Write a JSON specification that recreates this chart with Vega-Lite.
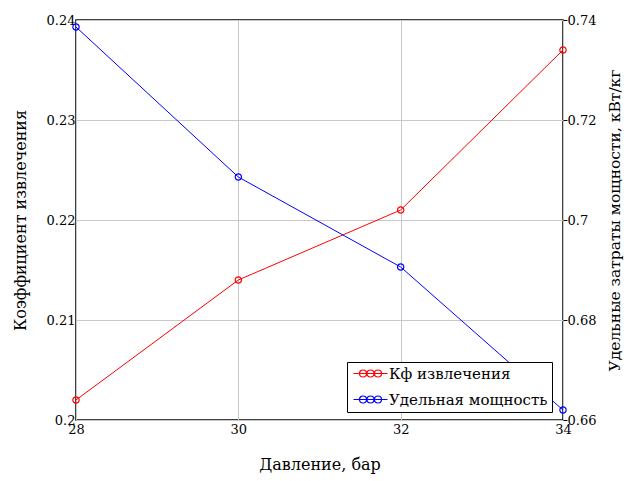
{
  "$schema": "https://vega.github.io/schema/vega-lite/v6.json",
  "width": 487,
  "height": 400,
  "autosize": {"type": "none"},
  "padding": {"left": 76, "top": 20, "right": 70, "bottom": 61},
  "background": "white",
  "config": {
    "font": "DejaVu Serif",
    "view": {"stroke": "black", "strokeWidth": 1.5},
    "axis": {"labelFont": "DejaVu Serif", "titleFont": "DejaVu Serif", "labelFontSize": 13, "titleFontSize": 16, "titleFontWeight": "normal", "labelColor": "black", "titleColor": "black", "gridColor": "#c8c8c8", "gridWidth": 1, "domainColor": "black", "tickColor": "black", "labelFlush": false},
    "legend": {"labelFont": "DejaVu Serif"}
  },
  "data": {
    "values": [
      {"p": 28, "series": "Кф извлечения", "v": 0.202},
      {"p": 30, "series": "Кф извлечения", "v": 0.214},
      {"p": 32, "series": "Кф извлечения", "v": 0.221},
      {"p": 34, "series": "Кф извлечения", "v": 0.237},
      {"p": 28, "series": "Удельная мощность", "v": 0.7386},
      {"p": 30, "series": "Удельная мощность", "v": 0.7086},
      {"p": 32, "series": "Удельная мощность", "v": 0.6906},
      {"p": 34, "series": "Удельная мощность", "v": 0.662}
    ]
  },
  "encoding": {
    "x": {"field": "p", "type": "quantitative", "title": "Давление, бар",
      "scale": {"domain": [28, 34], "nice": false, "zero": false},
      "axis": {"values": [28, 30, 32, 34], "tickSize": 0, "labelPadding": 3, "titlePadding": 20, "domain": false}},
    "color": {"field": "series", "type": "nominal", "title": null,
      "scale": {"domain": ["Кф извлечения", "Удельная мощность"], "range": ["#ff0000", "#0000ff"]},
      "legend": {"orient": "none", "legendX": 271, "legendY": 342, "padding": 4, "strokeColor": "black", "fillColor": "white",
        "labelFontSize": 15, "labelColor": "black", "labelOffset": 23, "rowPadding": 10, "labelLimit": 400,
        "symbolType": "M-1,0H5.8M0.2,0a0.7,0.7 0 1,0 1.4,0a0.7,0.7 0 1,0 -1.4,0M1.7,0a0.7,0.7 0 1,0 1.4,0a0.7,0.7 0 1,0 -1.4,0M3.2,0a0.7,0.7 0 1,0 1.4,0a0.7,0.7 0 1,0 -1.4,0",
        "symbolSize": 100, "symbolStrokeWidth": 1.2, "symbolFillColor": "transparent"}}
  },
  "layer": [
    {
      "transform": [{"filter": "datum.series === 'Кф извлечения'"}],
      "mark": {"type": "line", "strokeWidth": 1, "point": {"filled": false, "size": 40, "strokeWidth": 1.2}},
      "encoding": {
        "y": {"field": "v", "type": "quantitative", "title": "Коэффициент извлечения",
          "scale": {"domain": [0.2, 0.24], "nice": false, "zero": false},
          "axis": {"values": [0.2, 0.21, 0.22, 0.23, 0.24], "format": "~g", "tickSize": 0, "labelPadding": 1, "titlePadding": 18, "domain": false}}
      }
    },
    {
      "transform": [{"filter": "datum.series === 'Удельная мощность'"}],
      "mark": {"type": "line", "strokeWidth": 1, "point": {"filled": false, "size": 40, "strokeWidth": 1.2}},
      "encoding": {
        "y": {"field": "v", "type": "quantitative", "title": "Удельные затраты мощности, кВт/кг",
          "scale": {"domain": [0.66, 0.74], "nice": false, "zero": false},
          "axis": {"orient": "right", "values": [0.66, 0.68, 0.7, 0.72, 0.74], "format": "~g", "grid": false, "tickSize": 4, "labelPadding": 0, "titlePadding": 27, "titleFontSize": 15.5, "titleAngle": 270, "domain": false}}
      }
    }
  ],
  "resolve": {"scale": {"y": "independent"}}
}
